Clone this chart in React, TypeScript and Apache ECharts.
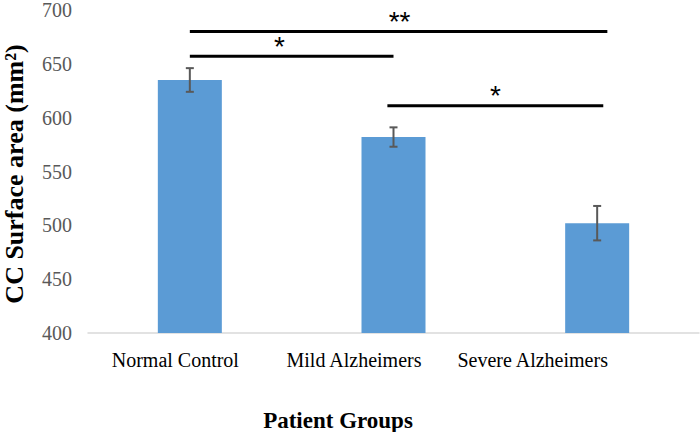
import React, { useEffect, useRef } from "react";
import * as echarts from "echarts";

const categories = ["Normal Control", "Mild Alzheimers", "Severe Alzheimers"];
const means = [635, 582, 502];
const errors = [11, 9, 16];
const yTicks = [400, 450, 500, 550, 600, 650, 700];

// significance brackets: start/end in category units from first category, y value, label, label position
const sigStart = [0, 0, 0.97];
const sigEnd = [2.05, 1.0, 2.03];
const sigY = [680, 657, 611];
const sigLabel = ["**", "*", "*"];
const sigLabelX = [1.03, 0.44, 1.5];

const SERIF = "'Liberation Serif', 'Times New Roman', serif";
const SANS = "'Liberation Sans', Arial, sans-serif";

export default function App() {
  const ref = useRef<HTMLDivElement>(null);
  useEffect(() => {
    if (!ref.current) return;
    const chart = echarts.init(ref.current, null, { renderer: "svg" });
    const errData = categories.map((_, i) => [i, means[i] - errors[i], means[i] + errors[i]]);
    const sigData = sigY.map((y, i) => [sigStart[i], sigEnd[i], y, sigLabelX[i], i]);
    chart.setOption({
      animation: false,
      backgroundColor: "#ffffff",
      grid: [
        { left: 88, right: 1, top: 8, bottom: 99, containLabel: false },
        { left: 86, right: 78, top: 8, bottom: 99, containLabel: false },
      ],
      xAxis: [
        {
          type: "category",
          gridIndex: 0,
          data: categories,
          axisLine: { lineStyle: { color: "#d9d9d9", width: 1.5 } },
          axisTick: { show: false },
          axisLabel: { show: false },
        },
        {
          type: "category",
          gridIndex: 1,
          data: categories,
          axisLine: { show: false },
          axisTick: { show: false },
          axisLabel: {
            color: "#000000",
            fontFamily: SERIF,
            fontSize: 20,
            margin: 17,
            interval: 0,
            hideOverlap: false,
          },
        },
      ],
      yAxis: [
        {
          type: "value",
          gridIndex: 0,
          min: yTicks[0],
          max: yTicks[yTicks.length - 1],
          interval: 50,
          axisLine: { show: false },
          axisTick: { show: false },
          splitLine: { show: false },
          axisLabel: { color: "#595959", fontFamily: SERIF, fontSize: 20, margin: 16 },
        },
        {
          type: "value",
          gridIndex: 1,
          min: yTicks[0],
          max: yTicks[yTicks.length - 1],
          show: false,
          splitLine: { show: false },
        },
      ],
      graphic: [
        {
          type: "text",
          x: 14,
          y: 174,
          rotation: Math.PI / 2,
          style: {
            text: "CC Surface area (mm²)",
            font: `bold 26px ${SERIF}`,
            fill: "#000000",
            align: "center",
            verticalAlign: "middle",
          },
        },
        {
          type: "text",
          x: 338,
          y: 420,
          style: {
            text: "Patient Groups",
            font: `bold 23px ${SERIF}`,
            fill: "#000000",
            align: "center",
            verticalAlign: "middle",
          },
        },
      ],
      series: [
        {
          type: "bar",
          data: means,
          barWidth: 64,
          itemStyle: { color: "#5b9bd5" },
        },
        {
          type: "custom",
          data: errData,
          clip: false,
          z: 3,
          renderItem: (params: any, api: any) => {
            const lo = api.coord([api.value(0), api.value(1)]);
            const hi = api.coord([api.value(0), api.value(2)]);
            const cap = 4;
            const st = { stroke: "#595959", lineWidth: 2 };
            return {
              type: "group",
              children: [
                { type: "line", shape: { x1: lo[0], y1: lo[1], x2: hi[0], y2: hi[1] }, style: st },
                { type: "line", shape: { x1: lo[0] - cap, y1: lo[1], x2: lo[0] + cap, y2: lo[1] }, style: st },
                { type: "line", shape: { x1: hi[0] - cap, y1: hi[1], x2: hi[0] + cap, y2: hi[1] }, style: st },
              ],
            };
          },
        },
        {
          type: "custom",
          data: sigData,
          clip: false,
          z: 4,
          renderItem: (params: any, api: any) => {
            const base = api.coord([0, api.value(2)]);
            const bw = api.size([1, 0])[0];
            const x1 = base[0] + api.value(0) * bw;
            const x2 = base[0] + api.value(1) * bw;
            const lx = base[0] + api.value(3) * bw;
            const idx = api.value(4);
            return {
              type: "group",
              children: [
                {
                  type: "line",
                  shape: { x1, y1: base[1], x2, y2: base[1] },
                  style: { stroke: "#000000", lineWidth: 3 },
                },
                {
                  type: "text",
                  x: lx,
                  y: base[1] - 10,
                  style: {
                    text: sigLabel[idx],
                    font: `28px ${SANS}`,
                    fill: "#000000",
                    align: "center",
                    verticalAlign: "middle",
                  },
                },
              ],
            };
          },
        },
      ],
    });
    return () => chart.dispose();
  }, []);
  return <div ref={ref} style={{ width: 700, height: 432, position: "absolute", left: 0, top: 0 }} />;
}
